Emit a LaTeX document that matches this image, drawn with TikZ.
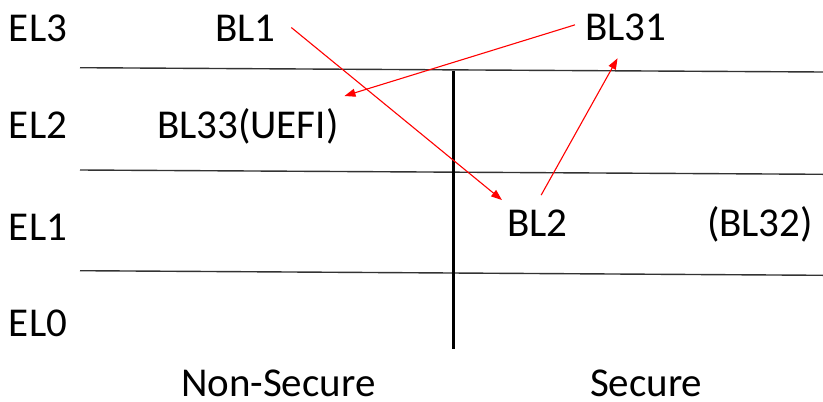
\documentclass[tikz,border=0pt]{standalone}
\usepackage{fontspec}
\setmainfont{Carlito}
\usetikzlibrary{arrows.meta}
\begin{document}
\begin{tikzpicture}[x=1pt,y=-1pt,
  lbl/.style={anchor=base west,inner sep=0pt,outer sep=0pt,font=\fontsize{41}{48}\selectfont},
  level/.style={line width=1.4pt,draw=black!80},
  divider/.style={line width=3pt,draw=black},
  flow/.style={draw=red,line width=1.1pt,-{Triangle[length=11pt,width=8pt]}}]
  \useasboundingbox (0,0) rectangle (823,402);

  % exception-level boundaries
  \coordinate (l1w) at (80,67.7);  \coordinate (l1e) at (823,72);
  \coordinate (l2w) at (80,170);   \coordinate (l2e) at (823,174.3);
  \coordinate (l3w) at (80,270.7); \coordinate (l3e) at (823,275.3);
  \draw[level] (l1w) -- (l1e);
  \draw[level] (l2w) -- (l2e);
  \draw[level] (l3w) -- (l3e);

  % world divider
  \coordinate (dtop) at (453.5,70.5);
  \coordinate (dbot) at (453.5,349);
  \draw[divider] (dtop) -- (dbot);

  % level labels
  \node[lbl] (el3) at (9,41.7) {EL3};
  \node[lbl] (el2) at (9,138) {EL2};
  \node[lbl] (el1) at (9,240) {EL1};
  \node[lbl] (el0) at (9,336.7) {EL0};

  % boot stages
  \node[lbl] (bl1)  at (215,41.7) {BL1};
  \node[lbl] (bl31) at (585,40) {BL31};
  \node[lbl] (bl33) at (157,138) {BL33(UEFI)};
  \node[lbl] (bl2)  at (507,236.7) {BL2};
  \node[lbl] (bl32) at (707,236.7) {(BL32)};

  % worlds
  \node[lbl] (ns) at (181,396.5) {Non-Secure};
  \node[lbl] (sec) at (590,396.5) {Secure};

  % boot flow
  \draw[flow] ([shift={(16,-1)}]bl1.east) -- ([shift={(-5,-10)}]bl2.north west);
  \draw[flow] ([shift={(-10,-2)}]bl31.west) -- ([shift={(6,-12)}]bl33.north east);
  \draw[flow] ([shift={(4,-15)}]bl2.north) -- ([shift={(-8,18)}]bl31.south);
\end{tikzpicture}
\end{document}
